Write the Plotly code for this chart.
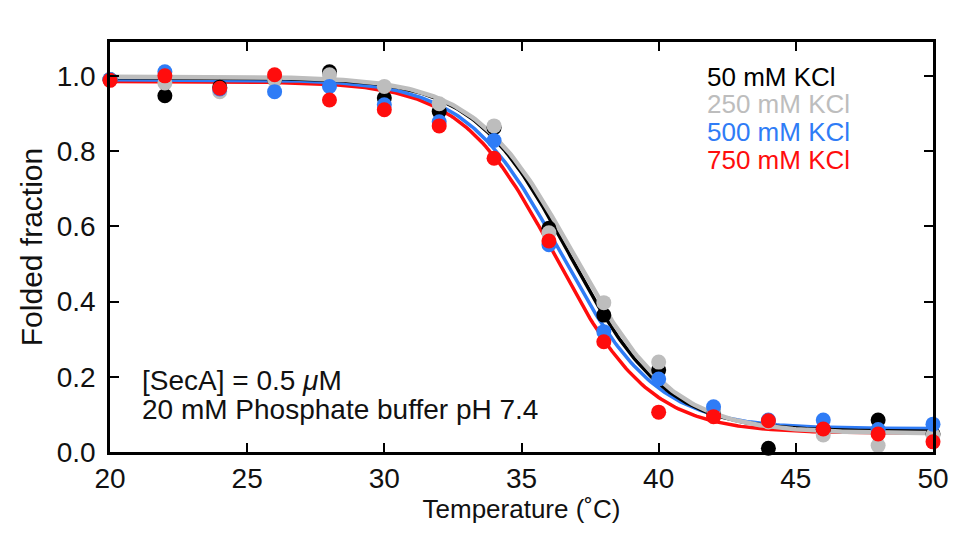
import numpy as np
import plotly.graph_objects as go

temperature = [20, 22, 24, 26, 28, 30, 32, 34, 36, 38, 40, 42, 44, 46, 48, 50]

series_names = ["50 mM KCl", "250 mM KCl", "500 mM KCl", "750 mM KCl"]
series_colors = ["#000000", "#bdbdbd", "#2f7cf6", "#ff0d0d"]

kcl_50 = [0.99, 0.947, 0.97, 0.99, 1.011, 0.941, 0.905, 0.862, 0.595, 0.364, 0.218, 0.105, 0.010, 0.060, 0.085, 0.048]
kcl_250 = [0.99, 0.981, 0.958, 0.99, 1.003, 0.972, 0.926, 0.867, 0.583, 0.397, 0.239, 0.110, 0.080, 0.045, 0.017, 0.045]
kcl_500 = [0.99, 1.011, 0.965, 0.958, 0.972, 0.923, 0.878, 0.828, 0.551, 0.320, 0.194, 0.120, 0.085, 0.085, 0.060, 0.074]
kcl_750 = [0.988, 1.000, 0.967, 1.003, 0.936, 0.910, 0.867, 0.781, 0.561, 0.293, 0.106, 0.094, 0.083, 0.061, 0.048, 0.027]
series_values = [kcl_50, kcl_250, kcl_500, kcl_750]

# two-state fit parameters
fit_top = [0.995, 0.998, 0.99, 0.985]
fit_bottom = [0.055, 0.050, 0.062, 0.050]
fit_tm = [36.75, 36.9, 36.45, 36.25]
fit_width = [1.75, 1.8, 1.75, 1.72]

x_ticks = [20, 25, 30, 35, 40, 45, 50]
y_ticks = [0.0, 0.2, 0.4, 0.6, 0.8, 1.0]

FONT = "Liberation Sans, Arial, Helvetica, sans-serif"

fig = go.Figure()

t_fit = np.linspace(20, 50, 301)
line_order = [3, 2, 0, 1]
line_widths = [3.5, 4.5, 3.5, 3.5]
for i in line_order:
    y_fit = fit_bottom[i] + (fit_top[i] - fit_bottom[i]) / (1 + np.exp((t_fit - fit_tm[i]) / fit_width[i]))
    fig.add_trace(go.Scatter(x=t_fit, y=y_fit, mode="lines",
                             line=dict(color=series_colors[i], width=line_widths[i]),
                             showlegend=False, hoverinfo="skip"))

for i in range(4):
    fig.add_trace(go.Scatter(x=temperature, y=series_values[i], mode="markers",
                             marker=dict(color=series_colors[i], size=15),
                             name=series_names[i], showlegend=False, cliponaxis=False))

legend_y = [0.998, 0.924, 0.850, 0.776]
for i in range(4):
    fig.add_annotation(x=41.7, y=legend_y[i], xref="x", yref="y", text=series_names[i],
                       showarrow=False, xanchor="left", yanchor="middle",
                       font=dict(family=FONT, size=26, color=series_colors[i]))

fig.add_annotation(x=21.1, y=0.189, xref="x", yref="y", text="[SecA] = 0.5 <i>μ</i>M",
                   showarrow=False, xanchor="left", yanchor="middle",
                   font=dict(family=FONT, size=28, color="#111111"))
fig.add_annotation(x=21.1, y=0.114, xref="x", yref="y", text="20 mM Phosphate buffer pH 7.4",
                   showarrow=False, xanchor="left", yanchor="middle",
                   font=dict(family=FONT, size=28, color="#111111"))

axis_common = dict(showline=True, linecolor="black", linewidth=2.5, mirror="ticks",
                   ticks="inside", ticklen=9, tickwidth=2.2, tickcolor="black",
                   showgrid=False, zeroline=False,
                   tickfont=dict(family=FONT, size=28, color="#111111"))

fig.update_xaxes(range=[20, 50], tickvals=x_ticks, ticktext=[str(v) for v in x_ticks],
                 title=dict(text="Temperature (˚C)", standoff=4,
                            font=dict(family=FONT, size=26, color="#111111")),
                 **axis_common)
fig.update_yaxes(range=[0, 1.09], tickvals=y_ticks, ticktext=[f"{v:.1f}" for v in y_ticks],
                 ticklabelstandoff=6,
                 title=dict(text="Folded fraction", standoff=6,
                            font=dict(family=FONT, size=30, color="#111111")),
                 **axis_common)

fig.update_layout(width=956, height=530, plot_bgcolor="white", paper_bgcolor="white",
                  margin=dict(l=102, r=31, t=34, b=86), showlegend=False)

fig.write_html("out.html")
